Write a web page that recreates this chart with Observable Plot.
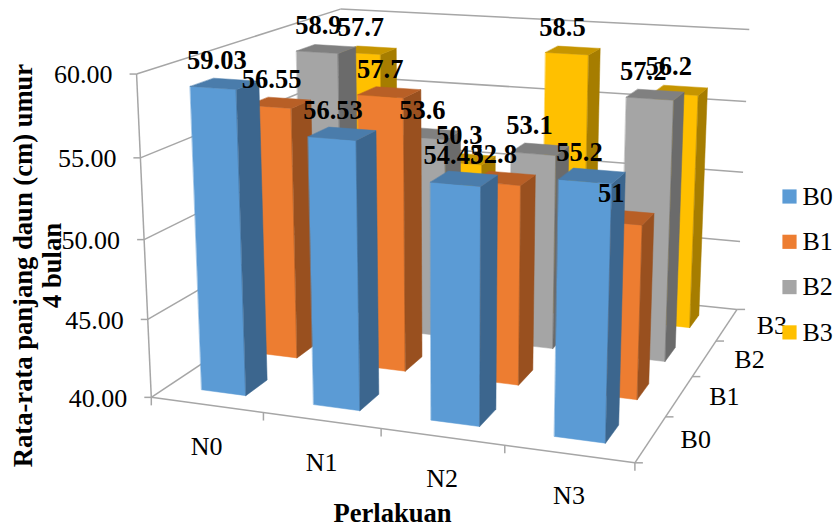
<!DOCTYPE html>
<html>
<head>
<meta charset="utf-8">
<script src="https://cdn.jsdelivr.net/npm/d3@7"></script>
<script src="https://cdn.jsdelivr.net/npm/@observablehq/plot@0.6"></script>
<style>
  html, body { margin: 0; padding: 0; background: #fff; }
  svg { display: block; }
</style>
</head>
<body>
<div id="chart"></div>
<script>
// Leaf length at 4 months, by treatment N (columns) and B (rows).
const treatmentsN = ["N0", "N1", "N2", "N3"];
const treatmentsB = ["B0", "B1", "B2", "B3"];
const valuesB0 = [59.03, 56.53, 54.43, 55.2];
const valuesB1 = [56.55, 57.7, 52.8, 51];
const valuesB2 = [58.9, 53.6, 53.1, 57.2];
const valuesB3 = [57.7, 50.3, 58.5, 56.2];
const valueTicks = [40, 45, 50, 55, 60];
const seriesValues = [valuesB0, valuesB1, valuesB2, valuesB3];

const frontColors = ["#5b9bd5", "#ed7d31", "#a5a5a5", "#ffc000"];
const sideColors = ["#3c668e", "#99501f", "#6b6b6b", "#a67d00"];
const topColors = ["#4a7cab", "#b85f26", "#808080", "#c69500"];
const axisColor = "#a6a6a6";
const font = "Liberation Serif";
const fontSize = 26;

// Camera of the 3D box: world corners [n, b, value] and where they land on the page.
const cameraPairs = [
  [0, 0, 40, 151, 397], [1, 0, 40, 263, 412], [2, 0, 40, 380, 428], [3, 0, 40, 503, 446], [4, 0, 40, 633, 461],
  [4, 1, 40, 667, 416], [4, 2, 40, 693, 376], [4, 3, 40, 717, 340], [4, 4, 40, 735, 309],
  [0, 0, 50, 144, 239], [0, 0, 60, 136, 74], [0, 4, 60, 340, 8],
  [4, 4, 45, 739, 242], [4, 4, 50, 743, 172], [4, 4, 55, 745, 101], [4, 4, 60, 749, 29]
];

// Least-squares fit of the 3x4 projective matrix (last coefficient fixed to 1).
function fitCamera(pairs) {
  const rows = [];
  const rhs = [];
  for (const [n, b, v, px, py] of pairs) {
    const X = n / 4, Y = b / 4, Z = (v - 40) / 20, x = px / 800, y = py / 800;
    rows.push([X, Y, Z, 1, 0, 0, 0, 0, -x * X, -x * Y, -x * Z]); rhs.push(x);
    rows.push([0, 0, 0, 0, X, Y, Z, 1, -y * X, -y * Y, -y * Z]); rhs.push(y);
  }
  const m = 11;
  const A = d3.range(m).map(i => d3.range(m + 1).map(j =>
    d3.sum(rows, (r, k) => r[i] * (j < m ? r[j] : rhs[k]))));
  for (let i = 0; i < m; i++) {
    let best = i;
    for (let k = i + 1; k < m; k++) if (Math.abs(A[k][i]) > Math.abs(A[best][i])) best = k;
    [A[i], A[best]] = [A[best], A[i]];
    for (let k = 0; k < m; k++) {
      if (k === i) continue;
      const f = A[k][i] / A[i][i];
      for (let j = i; j <= m; j++) A[k][j] -= f * A[i][j];
    }
  }
  return A.map((r, i) => r[m] / r[i]);
}
const cam = fitCamera(cameraPairs);

function project(n, b, v) {
  const X = n / 4, Y = b / 4, Z = (v - 40) / 20;
  const w = cam[8] * X + cam[9] * Y + cam[10] * Z + 1;
  return {
    x: 800 * (cam[0] * X + cam[1] * Y + cam[2] * Z + cam[3]) / w,
    y: 800 * (cam[4] * X + cam[5] * Y + cam[6] * Z + cam[7]) / w
  };
}

const gap = 0.3; // share of a category cell left empty on each side of a column
const face = (corners, fill) =>
  Plot.line(corners.map(c => project(...c)), {
    x: "x", y: "y", curve: "linear-closed", fill, stroke: fill, strokeWidth: 0.5
  });

// Back row first, left to right, so nearer columns paint over farther ones.
const barMarks = [];
for (let b = 3; b >= 0; b--) {
  seriesValues[b].forEach((value, n) => {
    const x0 = n + gap, x1 = n + 1 - gap, y0 = b + gap, y1 = b + 1 - gap;
    barMarks.push(
      face([[x0, y0, 40], [x1, y0, 40], [x1, y0, value], [x0, y0, value]], frontColors[b]),
      face([[x1, y0, 40], [x1, y1, 40], [x1, y1, value], [x1, y0, value]], sideColors[b]),
      face([[x0, y0, value], [x1, y0, value], [x1, y1, value], [x0, y1, value]], topColors[b])
    );
  });
}

const segment = (from, to, dx = 0, dy = 0) => {
  const a = project(...from), b = to ? project(...to) : { x: a.x + dx, y: a.y + dy };
  return { x1: a.x, y1: a.y, x2: b.x, y2: b.y };
};

const axisSegments = [
  // walls: one line per value tick along the left and back sides
  ...valueTicks.flatMap(v => [segment([0, 0, v], [0, 4, v]), segment([0, 4, v], [4, 4, v])]),
  // axes
  segment([0, 0, 40], [0, 0, 60]),
  segment([0, 0, 40], [4, 0, 40]),
  segment([4, 0, 40], [4, 4, 40]),
  // tick marks
  ...valueTicks.map(v => segment([0, 0, v], null, -7, 0)),
  ...d3.range(5).map(n => segment([n, 0, 40], null, 0, 8)),
  ...d3.range(5).map(b => segment([4, b, 40], null, 8, 0))
];

// Value labels sit over the column top, drifting a little left toward the right of the chart.
const valueLabels = seriesValues.flatMap((series, b) => series.map((value, n) => ({
  ...project(n + 0.5 - 0.012 * n, b + 0.5, value), label: String(value)
})));

const tickLabels = valueTicks.map(v => ({ ...project(0, 0, v), label: v.toFixed(2) }));
const nLabels = treatmentsN.map((label, n) => ({ ...project(n + 0.5, 0, 40), label }));
const bLabels = treatmentsB.map((label, b) => ({ ...project(4, b + 0.5, 40), label }));
const legendRows = treatmentsB.map((label, i) => ({ label, color: frontColors[i], y: 196 + i * 45.3 }));

const baseText = { fontSize, fontFamily: font, fill: "#000", lineAnchor: "middle" };

const chart = Plot.plot({
  width: 837,
  height: 528,
  margin: 0,
  style: { background: "#fff", fontFamily: font },
  x: { type: "linear", domain: [0, 837], range: [0, 837], axis: null },
  y: { type: "linear", domain: [0, 528], range: [0, 528], axis: null },
  marks: [
    Plot.link(axisSegments, { x1: "x1", y1: "y1", x2: "x2", y2: "y2", stroke: axisColor, strokeWidth: 1.5 }),
    ...barMarks,
    Plot.text(tickLabels, { ...baseText, x: "x", y: "y", text: "label", textAnchor: "end", dx: -24, dy: 1 }),
    Plot.text(nLabels, { ...baseText, x: "x", y: "y", text: "label", dy: 42 }),
    Plot.text(bLabels, { ...baseText, x: "x", y: "y", text: "label", dx: 45, dy: 1 }),
    Plot.text(valueLabels, { ...baseText, x: "x", y: "y", text: "label", fontSize: 26.5, fontWeight: "bold", dx: -8, dy: -23 }),
    Plot.dot(legendRows, { x: () => 789, y: "y", symbol: "square", r: 8, fill: "color" }),
    Plot.text(legendRows, { ...baseText, x: () => 802, y: "y", text: "label", textAnchor: "start" }),
    Plot.text(["Rata-rata panjang daun (cm) umur"], { ...baseText, x: () => 23, y: () => 265, text: d => d, rotate: -90, fontSize: 26.6, fontWeight: "bold" }),
    Plot.text(["4 bulan"], { ...baseText, x: () => 52, y: () => 265, text: d => d, rotate: -90, fontSize: 26.6, fontWeight: "bold" }),
    Plot.text(["Perlakuan"], { ...baseText, x: () => 392, y: () => 513, text: d => d, fontSize: 26.6, fontWeight: "bold" })
  ]
});
document.getElementById("chart").append(chart);
</script>
</body>
</html>
